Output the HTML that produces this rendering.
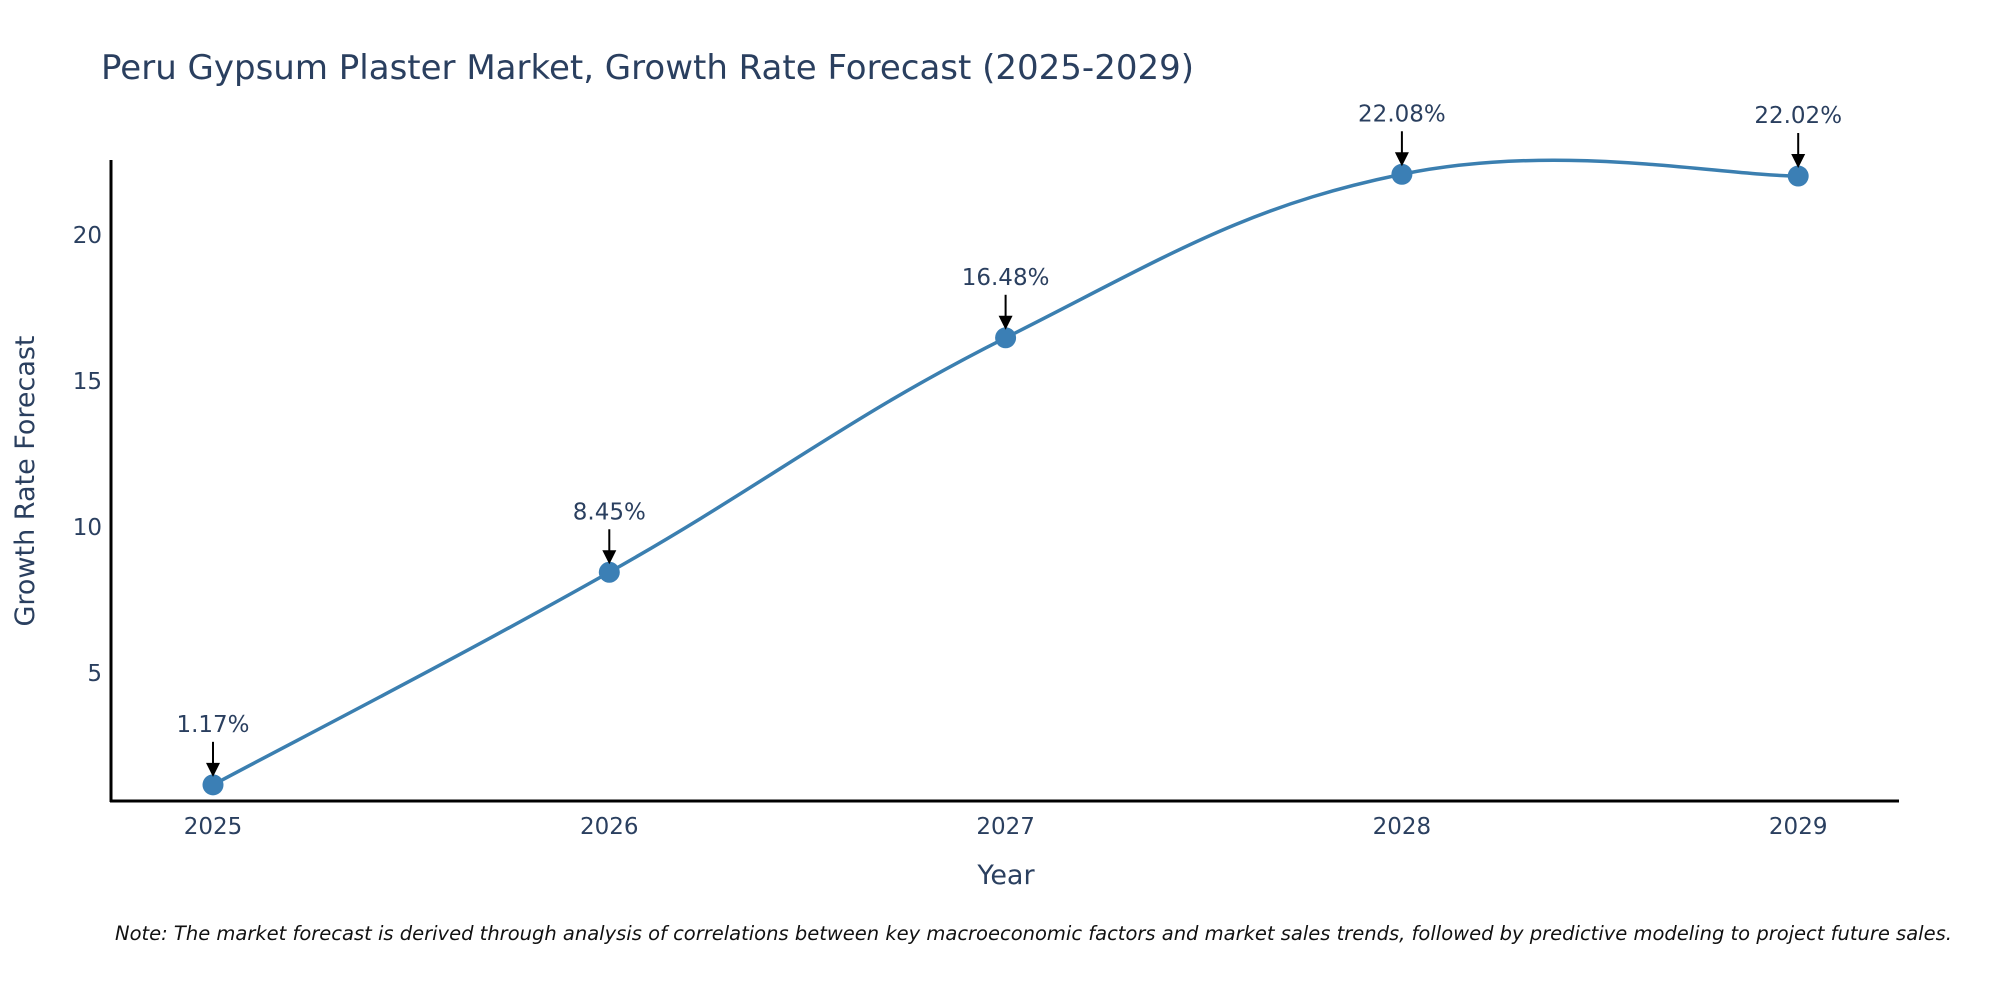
<!DOCTYPE html>
<html><head><meta charset="utf-8"><style>
html,body{margin:0;padding:0;background:#fff;}
svg{display:block;font-family:"DejaVu Sans","Liberation Sans",sans-serif;}
</style></head><body>
<svg id="chart" width="2000" height="1000" viewBox="0 0 2000 1000">
<text x="101" y="79" font-size="34" fill="#2a3f5f">Peru Gypsum Plaster Market, Growth Rate Forecast (2025-2029)</text>
<g id="axes"></g>
<g id="series"></g>
<g id="annos"></g>
<text transform="translate(34,481) rotate(-90)" text-anchor="middle" font-size="27" fill="#2a3f5f">Growth Rate Forecast</text>
<text x="1006" y="884" text-anchor="middle" font-size="27" fill="#2a3f5f">Year</text>
<text x="115" y="940" font-size="19.5" font-style="italic" fill="#111">Note: The market forecast is derived through analysis of correlations between key macroeconomic factors and market sales trends, followed by predictive modeling to project future sales.</text>
</svg>
<script>
const years = ["2025","2026","2027","2028","2029"];
const values = [1.17, 8.45, 16.48, 22.08, 22.02];
const labels = ["1.17%","8.45%","16.48%","22.08%","22.02%"];
const yTicks = [5, 10, 15, 20];

const NS = "http://www.w3.org/2000/svg";
function x(i){ return 213 + i * 396.3; }
function y(v){ return 819 - v * 29.2; }
function mk(tag, attrs, parent){ const e=document.createElementNS(NS,tag); for(const k in attrs) e.setAttribute(k,attrs[k]); parent.appendChild(e); return e; }

const axes=document.getElementById('axes');
const xl=mk('line',{x1:110,y1:801,x2:1899,y2:801,stroke:'#000','stroke-width':3},axes);


const yl=mk('line',{x1:111,y1:160,x2:111,y2:802,stroke:'#000','stroke-width':3},axes);


yTicks.forEach(t=>{
  const e=mk('text',{x:102,y:y(t)+8,'text-anchor':'end','font-size':23,fill:'#2a3f5f'},axes);
  e.textContent=t;
  
  
});
years.forEach((yr,i)=>{
  const e=mk('text',{x:x(i),y:834,'text-anchor':'middle','font-size':23,fill:'#2a3f5f'},axes);
  e.textContent=yr;
  
  
});

const pts=values.map((v,i)=>[x(i),y(v)]);
let d=`M${pts[0][0]},${pts[0][1]}`;
const s=0.2;
for(let i=0;i<pts.length-1;i++){
  const p0=pts[Math.max(i-1,0)],p1=pts[i],p2=pts[i+1],p3=pts[Math.min(i+2,pts.length-1)];
  const c1=[p1[0]+(p2[0]-p0[0])*s,p1[1]+(p2[1]-p0[1])*s];
  const c2=[p2[0]-(p3[0]-p1[0])*s,p2[1]-(p3[1]-p1[1])*s];
  d+=` C${c1[0]},${c1[1]} ${c2[0]},${c2[1]} ${p2[0]},${p2[1]}`;
}
const series=document.getElementById('series');
const line=mk('path',{d:d,fill:'none',stroke:'#3b7fb0','stroke-width':3.5},series);


pts.forEach(p=>{
  const c=mk('circle',{cx:p[0],cy:p[1],r:10.5,fill:'#3b7fb5'},series);
  
  
});

const annos=document.getElementById('annos');
pts.forEach((p,i)=>{
  const g=mk('g',{},annos);
  
  
  mk('line',{x1:p[0],y1:p[1]-43,x2:p[0],y2:p[1]-20,stroke:'#000','stroke-width':2},g);
  mk('path',{d:`M${p[0]-7},${p[1]-22} L${p[0]+7},${p[1]-22} L${p[0]},${p[1]-8} Z`,fill:'#000'},g);
  const t=mk('text',{x:p[0],y:p[1]-53,'text-anchor':'middle','font-size':23,fill:'#2a3f5f'},g);
  t.textContent=labels[i];
});
</script>
</body></html>
